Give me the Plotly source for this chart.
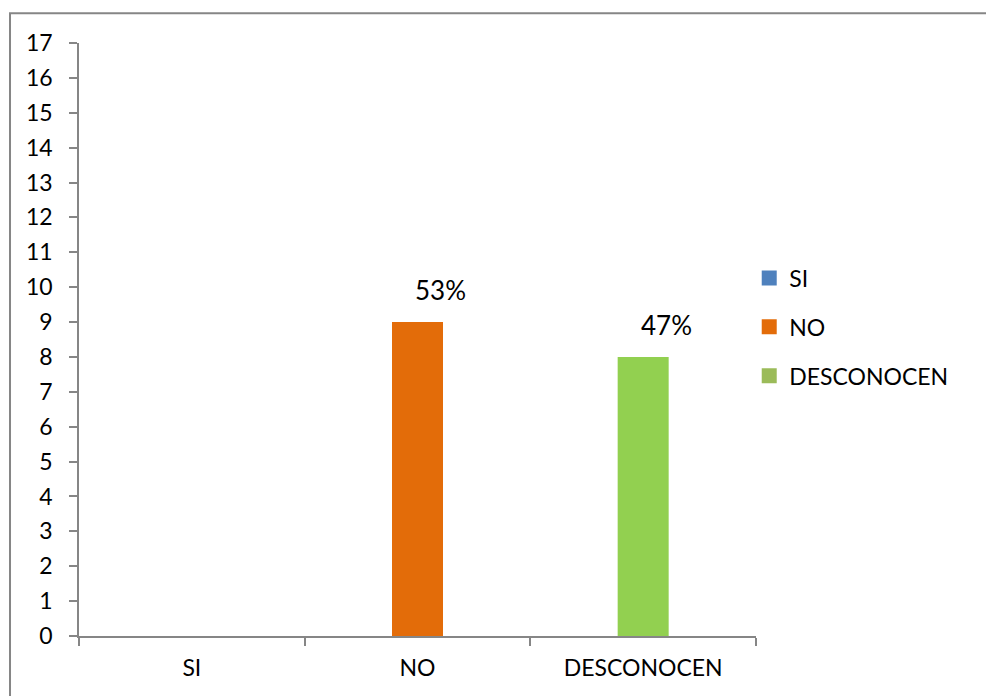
import plotly.graph_objects as go

categories = ["SI", "NO", "DESCONOCEN"]
values = [0, 9, 8]
pct_labels = ["", "53%", "47%"]
bar_colors = ["#4F81BD", "#E36C09", "#92D050"]
legend_colors = ["#4F81BD", "#E36C09", "#9BBB59"]
y_ticks = list(range(0, 18))

FONT = "Lato"
FS = 23

fig = go.Figure()
for i, cat in enumerate(categories):
    fig.add_trace(go.Bar(
        x=[cat], y=[values[i]], name=cat,
        marker=dict(color=bar_colors[i], line=dict(width=0)),
        width=0.226, legendgroup=cat, showlegend=False,
    ))
    # legend entries (square swatches)
    fig.add_trace(go.Scatter(
        x=[None], y=[None], name=cat, mode="markers",
        marker=dict(color=legend_colors[i], symbol="square", size=15,
                    line=dict(width=0)),
        legendgroup=cat, showlegend=True,
    ))

for i, cat in enumerate(categories):
    if pct_labels[i]:
        fig.add_annotation(
            x=cat, y=values[i], text=pct_labels[i], showarrow=False,
            yanchor="bottom", yshift=14, xshift=23,
            font=dict(family=FONT, size=26, color="#000000"),
        )

axis_color = "#868686"
fig.update_layout(
    width=986, height=696,
    margin=dict(l=79, r=230, t=43, b=60),
    paper_bgcolor="white", plot_bgcolor="white",
    barmode="overlay",
    font=dict(family=FONT, size=FS, color="#000000"),
    xaxis=dict(
        type="category", categoryorder="array", categoryarray=categories,
        range=[-0.5, 2.5], showgrid=False, zeroline=False,
        showline=True, linecolor=axis_color, linewidth=1.5,
        ticks="outside", tickson="boundaries", ticklen=8,
        tickcolor=axis_color, tickwidth=1.5,
        tickfont=dict(family=FONT, size=FS, color="#000000"),
        ticklabelstandoff=11,
    ),
    yaxis=dict(
        range=[0, 17], tickvals=y_ticks, showgrid=False, zeroline=False,
        showline=True, linecolor=axis_color, linewidth=1.5,
        ticks="outside", ticklen=8, tickcolor=axis_color, tickwidth=1.5,
        tickfont=dict(family=FONT, size=FS, color="#000000"),
        ticklabelstandoff=12,
    ),
    legend=dict(
        x=0.99, xanchor="left", y=0.64, yanchor="top",
        font=dict(family=FONT, size=FS, color="#000000"),
        tracegroupgap=16, bgcolor="rgba(0,0,0,0)", itemwidth=30,
    ),
    shapes=[dict(
        type="rect", xref="paper", yref="paper",
        x0=-0.1019, x1=2.0, y0=-0.3, y1=1.050,
        line=dict(color=axis_color, width=2), fillcolor="rgba(0,0,0,0)",
        layer="below",
    )],
)

fig.write_html("out.html")
